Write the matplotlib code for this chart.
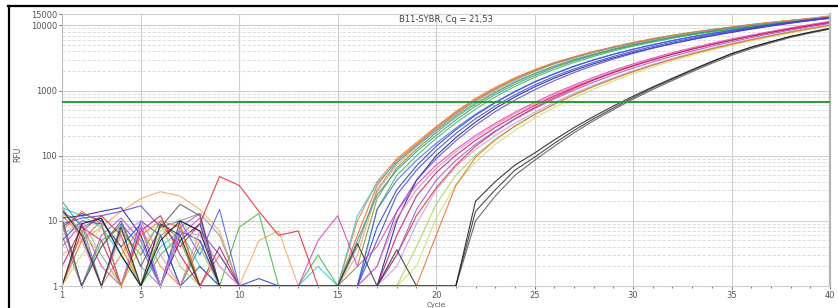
# imports
import numpy as np
import matplotlib.pyplot as plt
from matplotlib.lines import Line2D
from matplotlib.ticker import FixedLocator, NullFormatter

# cycles and RFU values per well (noise part cycles 1-15 + amplification cycles 16-40)
cycles = list(range(1, 41))

orange = [12, 6, 1, 3, 8, 2, 1, 5, 1, 1, 1, 1, 1, 1, 1] + \
    [10, 40, 90, 160, 280, 480, 760, 1120, 1580, 2100, 2700, 3300, 4000, 4700, 5500,
     6300, 7100, 7900, 8700, 9500, 10400, 11200, 12000, 12800, 13800]
dark_orange = [1, 5, 10, 4, 1, 6, 9, 1, 3, 1, 1, 1, 1, 1, 1] + \
    [6, 35, 85, 150, 270, 460, 730, 1080, 1530, 2050, 2650, 3250, 3950, 4650, 5400,
     6200, 7000, 7800, 8600, 9400, 10300, 11100, 12000, 12900, 14000]
light_orange = [3, 5, 8, 14, 22, 28, 24, 15, 7, 1, 5, 7, 1, 1, 1] + \
    [3, 28, 72, 135, 245, 425, 690, 1020, 1450, 1960, 2550, 3150, 3850, 4550, 5300,
     6100, 6900, 7700, 8500, 9300, 10200, 11000, 11900, 12800, 13900]
cyan = [16, 12, 8, 3, 1, 4, 7, 2, 1, 1, 1, 1, 1, 2, 1] + \
    [12, 38, 80, 140, 240, 410, 650, 960, 1380, 1850, 2400, 3000, 3650, 4350, 5100,
     5850, 6600, 7400, 8200, 9000, 9800, 10600, 11400, 12200, 13000]
gray = [6, 1, 4, 9, 2, 1, 10, 13, 6, 1, 1, 1, 1, 1, 1] + \
    [4, 30, 78, 145, 255, 440, 700, 1040, 1480, 2000, 2600, 3200, 3900, 4600, 5350,
     6150, 6950, 7750, 8550, 9350, 10200, 11000, 11800, 12600, 13500]
olive = [14, 9, 1, 7, 3, 10, 5, 1, 1, 1, 1, 1, 1, 1, 1] + \
    [2, 22, 65, 125, 225, 390, 620, 930, 1330, 1800, 2350, 2950, 3600, 4300, 5050,
     5800, 6600, 7400, 8200, 9000, 9800, 10600, 11400, 12200, 13100]
teal = [20, 8, 11, 3, 1, 6, 1, 4, 1, 1, 1, 1, 1, 1, 1] + \
    [5, 25, 60, 115, 205, 355, 575, 870, 1250, 1700, 2250, 2850, 3500, 4200, 4950,
     5700, 6500, 7300, 8100, 8900, 9700, 10500, 11300, 12100, 12900]
green = [10, 1, 5, 8, 1, 3, 6, 1, 1, 8, 13, 1, 1, 3, 1] + \
    [1, 15, 50, 100, 185, 320, 520, 800, 1160, 1600, 2120, 2700, 3350, 4050, 4800,
     5550, 6350, 7150, 7950, 8750, 9550, 10350, 11150, 11950, 12800]
blue = [8, 13, 10, 4, 9, 1, 7, 5, 1, 1, 1.3, 1, 1, 1, 1] + \
    [1, 8, 30, 70, 140, 250, 420, 650, 960, 1350, 1800, 2350, 2950, 3600, 4300,
     5050, 5850, 6700, 7550, 8400, 9300, 10200, 11100, 12000, 13000]
navy = [11, 12, 14, 16, 6, 1, 5, 9, 1, 1, 1, 1, 1, 1, 1] + \
    [1, 1, 10, 42, 100, 190, 330, 530, 800, 1140, 1550, 2030, 2580, 3180, 3830,
     4530, 5280, 6080, 6930, 7830, 8780, 9780, 10830, 11930, 13200]
royal = [14, 7, 1, 9, 4, 1, 10, 3, 15, 1, 1, 1, 1, 1, 1] + \
    [1, 15, 42, 85, 155, 265, 435, 665, 975, 1370, 1830, 2380, 2980, 3630, 4330,
     5080, 5880, 6700, 7550, 8400, 9250, 10100, 11000, 11900, 12900]
mid_blue = [5, 10, 9, 1, 10, 6, 1, 2, 1, 1, 1, 1, 1, 1, 1] + \
    [1, 5, 25, 60, 120, 220, 370, 580, 860, 1220, 1650, 2150, 2720, 3350, 4030,
     4760, 5540, 6370, 7240, 8150, 9100, 10100, 11150, 12250, 13400]
blue_violet = [9, 11, 12, 14, 17, 8, 10, 7, 3, 1, 1, 1, 1, 1, 1] + \
    [1, 2, 14, 42, 90, 170, 295, 475, 715, 1030, 1420, 1890, 2430, 3040, 3720,
     4460, 5260, 6110, 7010, 7960, 8960, 10000, 11100, 12250, 13400]
red = [1, 7, 12, 6, 1, 9, 4, 9, 48, 35, 14, 6, 7, 1, 1] + \
    [1, 1, 3, 12, 32, 72, 140, 235, 370, 550, 780, 1080, 1450, 1900, 2420,
     3000, 3650, 4360, 5130, 5960, 6850, 7800, 8810, 9880, 11000]
magenta = [4, 9, 2, 1, 8, 1, 6, 11, 1, 1, 1, 1, 1, 5, 12] + \
    [2, 4, 14, 36, 72, 125, 205, 315, 465, 660, 910, 1220, 1600, 2050, 2570,
     3160, 3820, 4540, 5330, 6190, 7120, 8120, 9190, 10330, 11600]
pink = [17, 5, 1, 6, 10, 3, 1, 7, 2, 1, 1, 1, 1, 1, 1] + \
    [1, 2, 11, 30, 64, 115, 190, 295, 440, 625, 865, 1165, 1530, 1970, 2480,
     3060, 3710, 4430, 5220, 6080, 7010, 8010, 9080, 10220, 11400]
crimson = [2, 8, 5, 1, 7, 12, 3, 1, 4, 1, 1, 1, 1, 1, 1] + \
    [1, 1, 6, 24, 55, 102, 172, 272, 408, 590, 825, 1115, 1470, 1895, 2390,
     2960, 3600, 4310, 5090, 5940, 6860, 7850, 8910, 10040, 11200]
violet = [9, 1, 6, 11, 5, 1, 8, 13, 1, 1, 1, 1, 1, 1, 1] + \
    [1, 1, 3, 15, 42, 85, 150, 240, 365, 530, 745, 1015, 1350, 1750, 2220,
     2760, 3370, 4050, 4800, 5620, 6510, 7470, 8500, 9600, 10800]
lavender = [6, 10, 3, 1, 9, 1, 7, 6, 2, 1, 1, 1, 1, 1, 1] + \
    [1, 1, 2, 9, 30, 68, 125, 205, 315, 465, 660, 905, 1210, 1580, 2020,
     2530, 3110, 3760, 4480, 5270, 6130, 7060, 8060, 9130, 10300]
light_green = [13, 7, 3, 1, 4, 9, 2, 1, 1, 1, 1, 1, 1, 1, 1] + \
    [1, 1, 1, 4, 18, 50, 102, 178, 285, 430, 620, 860, 1160, 1525, 1960,
     2470, 3050, 3700, 4420, 5210, 6070, 7000, 8000, 9070, 10200]
yellow_green = [1, 3, 8, 5, 1, 7, 11, 4, 1, 1, 1, 1, 1, 1, 1] + \
    [1, 1, 1, 2, 11, 36, 80, 148, 245, 378, 552, 775, 1055, 1400, 1815,
     2300, 2860, 3490, 4190, 4960, 5800, 6710, 7690, 8740, 9900]
orange_red = [7, 14, 9, 1, 6, 10, 8, 1, 1, 1, 1, 1, 1, 1, 1] + \
    [1, 1, 1, 1, 6, 35, 95, 175, 285, 430, 620, 860, 1160, 1520, 1950,
     2450, 3020, 3660, 4370, 5150, 6000, 6920, 7910, 8970, 10100]
black1 = [15, 6, 1, 8, 1, 9, 6, 1, 1, 1, 1, 1, 1, 1, 1] + \
    [4.5, 1, 3.6, 1, 1, 1, 14, 30, 60, 95, 155, 245, 370, 540, 780,
     1100, 1500, 2050, 2750, 3650, 4600, 5600, 6750, 7800, 8900]
black2 = [11, 1, 4, 10, 2, 8, 18, 12, 1, 1, 1, 1, 1, 1, 1] + \
    [1, 1, 1, 1, 1, 1, 10, 24, 50, 85, 140, 225, 345, 510, 740,
     1040, 1430, 1950, 2620, 3480, 4400, 5400, 6550, 7650, 8800]
black3 = [1, 9, 11, 3, 1, 5, 10, 7, 1, 1, 1, 1, 1, 1, 1] + \
    [1, 1, 1, 1, 1, 1, 20, 40, 72, 110, 175, 270, 400, 580, 820,
     1140, 1550, 2100, 2800, 3700, 4650, 5650, 6800, 7900, 9100]

wells = [orange, dark_orange, light_orange, cyan, gray, olive, teal, green,
         blue, navy, royal, mid_blue, blue_violet, red, magenta, pink, crimson,
         violet, lavender, light_green, yellow_green, orange_red,
         black1, black2, black3]
well_colors = ['#f07f2a', '#e8681a', '#f5a25a', '#2fc4e6', '#8c8c8c', '#7a8c3a',
               '#20a090', '#3cb83c', '#1f35e8', '#1414a8', '#3f63f2', '#3346c8',
               '#5a3ee0', '#e8202a', '#e03ab8', '#f27ab8', '#d0105a', '#9a50d8',
               '#c09ae6', '#9ed45a', '#c8de78', '#f06a22', '#303030', '#555555',
               '#1a1a1a']

threshold = 660
title = 'B11-SYBR, Cq = 21,53'
ytick_vals = [1, 10, 100, 1000, 10000, 15000]
xtick_vals = [1, 5, 10, 15, 20, 25, 30, 35, 40]


def main():
    fig = plt.figure(figsize=(8.38, 3.08), dpi=100)
    ax = fig.add_axes([62 / 838, 1 - 286 / 308, (830 - 62) / 838, (286 - 14) / 308])
    ax.set_yscale('log')
    ax.set_xlim(1, 40)
    ax.set_ylim(1, 15000)

    # grid: minor dashed, major solid
    minor = [m * 10 ** d for d in range(4) for m in range(2, 10)]
    for v in minor:
        if v < 15000:
            ax.axhline(v, color='#d8d8d8', lw=0.6, ls=(0, (4, 2)), zorder=0)
    for v in [10, 100, 1000, 10000]:
        ax.axhline(v, color='#d0d0d0', lw=0.8, zorder=0)
    for c in xtick_vals[1:-1]:
        ax.axvline(c, color='#cfcfcf', lw=0.8, zorder=0)

    # amplification curves
    for vals, col in zip(wells, well_colors):
        ax.plot(cycles, np.clip(vals, 1, None), color=col, lw=0.8, alpha=0.85,
                clip_on=True, zorder=2)

    ax.axhline(threshold, color='#2f9a2f', lw=1.4, zorder=3)

    # ticks
    ax.yaxis.set_major_locator(FixedLocator(ytick_vals))
    ax.set_yticklabels([str(v) for v in ytick_vals])
    ax.yaxis.set_minor_formatter(NullFormatter())
    ax.yaxis.set_minor_locator(FixedLocator([]))
    ax.set_xticks(xtick_vals)
    ax.set_xticks(cycles, minor=True)
    ax.tick_params(axis='both', which='major', labelsize=6, colors='#555555',
                   length=2.5, width=0.6, pad=1)
    ax.tick_params(axis='x', which='minor', length=1.5, width=0.8, color='#777777')

    for side, col, lw in [('left', '#bdbdbd', 0.8), ('bottom', '#cccccc', 0.8),
                          ('top', '#cfcfcf', 0.8), ('right', '#b5b5b5', 1.6)]:
        ax.spines[side].set_color(col)
        ax.spines[side].set_linewidth(lw)

    ax.text(0.5, 0.995, title, transform=ax.transAxes, ha='center', va='top',
            fontsize=6, color='#444444')
    fig.text(18 / 838, 0.5, 'RFU', rotation=90, ha='center', va='center',
             fontsize=5.5, color='#555555')
    fig.text(436 / 838, 0.5 / 308, 'Cycle', ha='center', va='bottom',
             fontsize=5, color='#555555')

    # outer frame
    fig.add_artist(Line2D([8.5 / 838, 8.5 / 838], [0, 1 - 5.5 / 308], color='black', lw=1.6))
    fig.add_artist(Line2D([8 / 838, 1], [1 - 5.5 / 308, 1 - 5.5 / 308], color='black', lw=1.6))

    fig.savefig('out.png', dpi=100)


if __name__ == '__main__':
    main()
